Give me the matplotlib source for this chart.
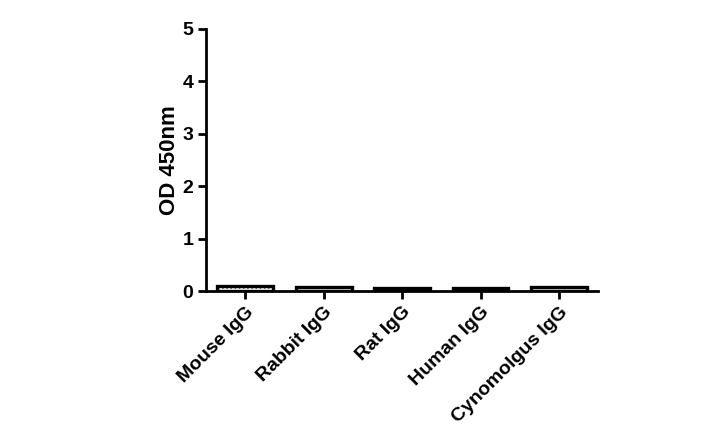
import matplotlib
matplotlib.use("Agg")
import matplotlib.pyplot as plt

categories = ["Mouse IgG", "Rabbit IgG", "Rat IgG", "Human IgG", "Cynomolgus IgG"]
values = [0.10, 0.08, 0.05, 0.05, 0.07]
yticks = [0, 1, 2, 3, 4, 5]

plt.rcParams['font.family'] = ['Liberation Sans', 'DejaVu Sans']
plt.rcParams['font.weight'] = 'bold'

fig = plt.figure(figsize=(7.2, 4.45), dpi=100)
ax = fig.add_axes([0.286, 0.346, 0.545, 0.589])

x = list(range(len(categories)))
ax.bar(x, values, width=0.71, facecolor='white', edgecolor='black', linewidth=2.4, hatch='....')

ax.set_xlim(-0.5, 4.5)
ax.set_ylim(0, 5)
ax.set_yticks(yticks)
ax.set_xticks(x)
ax.set_xticklabels(categories, rotation=45, ha='right', rotation_mode='anchor', fontsize=14, fontweight='bold')
ax.set_yticklabels([str(t) for t in yticks], fontsize=14, fontweight='bold')
ax.set_ylabel("OD 450nm", fontsize=16, fontweight='bold', labelpad=2)

for s in ['top', 'right']:
    ax.spines[s].set_visible(False)
for s in ['left', 'bottom']:
    ax.spines[s].set_linewidth(2)
ax.tick_params(axis='both', direction='out', length=6, width=2, pad=3)

fig.savefig("out.png", dpi=100)
